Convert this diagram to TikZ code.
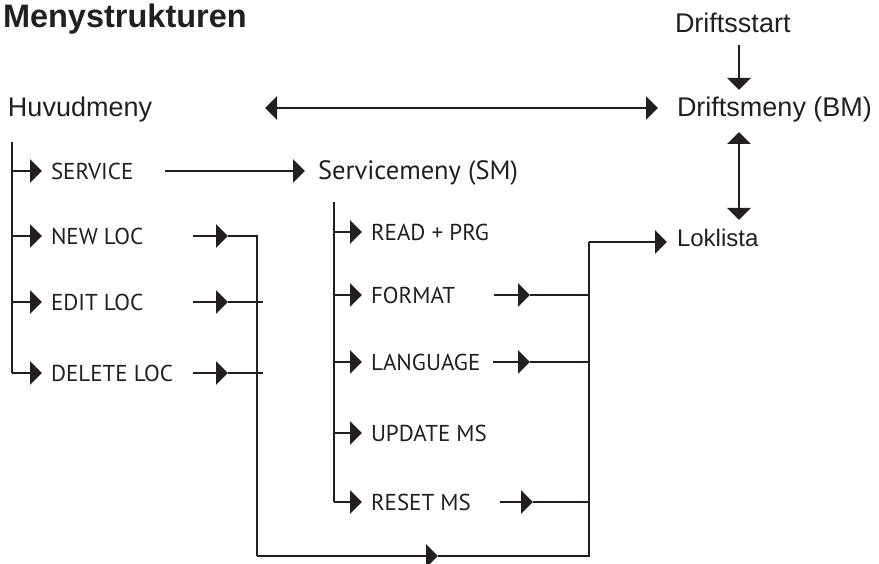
\documentclass[tikz,border=0pt]{standalone}
\usepackage{fontspec}
\setmainfont{Liberation Sans}
\newfontfamily\myr{PT Sans}
\usetikzlibrary{arrows.meta}
\definecolor{ink}{HTML}{231F20}
\begin{document}
\begin{tikzpicture}[x=1pt,y=-1pt,
  every node/.style={inner sep=0pt,outer sep=0pt,text=ink},
  conn/.style={draw=ink,line width=2.6pt},
  arr/.style={conn,-{Triangle[length=12pt,width=23pt]}},
  darr/.style={conn,{Triangle[length=12pt,width=23pt]}-{Triangle[length=12pt,width=23pt]}},
  big/.style={font=\fontsize{27}{30}\selectfont,anchor=base west},
  item/.style={font=\myr\fontsize{23}{26}\selectfont,anchor=west}]
\useasboundingbox (0,0) rectangle (879,564);
% texts
\node[anchor=base west,font=\fontsize{32.5}{36}\selectfont\bfseries] (title) at (3,28) {Menystrukturen};
\node[big] (start) at (675,33) {Driftsstart};
\node[big] (bm) at (677,117) {Driftsmeny (BM)};
\node[big] (hm) at (8,117) {Huvudmeny};
\node[anchor=base west,font=\fontsize{24}{28}\selectfont] (lok) at (677,247) {Loklista};
\node[anchor=base west,font=\myr\fontsize{26.5}{30}\selectfont] (sm) at (318,180) {Servicemeny (SM)};
\node[item] (service) at (51,171) {SERVICE};
\node[item] (newloc) at (51,236) {NEW LOC};
\node[item] (editloc) at (51,302) {EDIT LOC};
\node[item] (delloc) at (51,373) {DELETE LOC};
\node[item] (readprg) at (371,232) {READ + PRG};
\node[item] (format) at (371,295) {FORMAT};
\node[item] (lang) at (371,362) {LANGUAGE};
\node[item] (update) at (371,433) {UPDATE MS};
\node[item] (reset) at (371,502) {RESET MS};
% coordinates
\coordinate (hmtop) at (12,142);
\coordinate (hmbot) at (12,373);
\coordinate (smtop) at (334,202);
\coordinate (smbot) at (334,502);
\coordinate (colL) at (257,236);
\coordinate (botL) at (257,556);
\coordinate (botM) at (438,556);
\coordinate (botR) at (589,556);
\coordinate (colR) at (589,242);
% top arrows
\draw[arr] (739,45) -- (739,90);
\draw[darr] (739,132) -- (739,220);
\draw[darr] (265,108) -- (658,108);
\draw[arr] (165,171) -- (305,171);
% main tree
\draw[conn] (hmtop) -- (hmbot);
\foreach \n/\y in {service/171,newloc/236,editloc/302,delloc/373}
  \draw[arr] (12,\y) -- (42,\y);
% sm tree
\draw[conn] (smtop) -- (smbot);
\foreach \n/\y in {readprg/232,format/295,lang/362,update/433,reset/502}
  \draw[arr] (334,\y) -- (362,\y);
% loc connectors
\draw[arr] (193,236) -- (228,236);
\draw[conn] (228,236) -| (botL);
\draw[arr] (193,302) -- (228,302);
\draw[conn] (228,302) -- (263,302);
\draw[arr] (193,373) -- (228,373);
\draw[conn] (228,373) -- (263,373);
\draw[arr] (botL) -- (botM);
\draw[conn] (botM) -- (botR) -- (colR);
\draw[arr] (colR) -- (667,242);
% sm connectors
\draw[arr] (494,295) -- (530,295);
\draw[conn] (530,295) -- (589,295);
\draw[arr] (493,362) -- (530,362);
\draw[conn] (530,362) -- (589,362);
\draw[arr] (500,502) -- (533,502);
\draw[conn] (533,502) -- (589,502);
\end{tikzpicture}
\end{document}
